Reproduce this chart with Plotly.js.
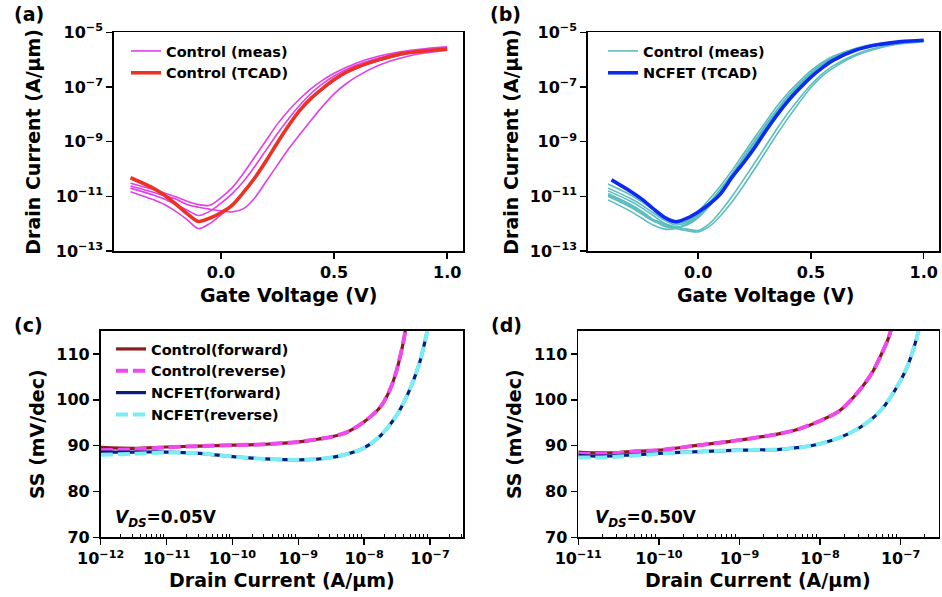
<!DOCTYPE html>
<html>
<head>
<meta charset="utf-8">
<script src="https://cdn.plot.ly/plotly-3.0.1.min.js"></script>
<style>html,body{margin:0;padding:0;background:#fff;} #chart{width:942px;height:597px;}</style>
</head>
<body>
<div id="chart"></div>
<script>
// ---------------- DATA (log10 of drain current, A/um) ----------------
// Panel (a): Control, measured vs TCAD
const vgA = [-0.4,-0.3,-0.25,-0.2,-0.15,-0.1,-0.05,0,0.05,0.1,0.15,0.2,0.25,0.3,0.35,0.4,0.45,0.5,0.55,0.6,0.7,0.8,0.9,1.0];
const ctrlTcadLog = [-10.32,-10.70,-10.96,-11.28,-11.63,-11.92,-11.80,-11.60,-11.32,-10.85,-10.32,-9.70,-9.03,-8.40,-7.84,-7.40,-7.05,-6.73,-6.47,-6.28,-6.0,-5.78,-5.68,-5.61];
const ctrlMeasA = [-10.52,-10.75,-10.88,-11.02,-11.18,-11.30,-11.33,-11.05,-10.68,-10.15,-9.55,-8.95,-8.35,-7.85,-7.42,-7.05,-6.75,-6.5,-6.3,-6.12,-5.87,-5.7,-5.6,-5.53];
const ctrlMeasB = [-10.70,-10.95,-11.1,-11.3,-11.5,-11.7,-11.55,-11.25,-10.9,-10.45,-9.9,-9.3,-8.7,-8.15,-7.65,-7.22,-6.88,-6.6,-6.38,-6.2,-5.93,-5.75,-5.64,-5.57];
const ctrlMeasC = [-10.83,-11.12,-11.3,-11.55,-11.85,-12.18,-12.0,-11.68,-11.3,-10.82,-10.27,-9.65,-9.02,-8.42,-7.88,-7.44,-7.08,-6.78,-6.52,-6.32,-6.03,-5.82,-5.7,-5.62];
const ctrlMeasD = [-10.62,-10.85,-10.98,-11.1,-11.3,-11.4,-11.47,-11.53,-11.57,-11.45,-11.05,-10.45,-9.85,-9.25,-8.72,-8.2,-7.7,-7.25,-6.9,-6.62,-6.2,-5.93,-5.76,-5.66];

// Panel (b): Control measured vs NCFET TCAD
const vgB = [-0.4,-0.3,-0.25,-0.2,-0.15,-0.1,-0.05,0,0.05,0.1,0.15,0.2,0.25,0.3,0.35,0.4,0.45,0.5,0.55,0.6,0.7,0.8,0.9,1.0];
const measB1 = [-10.55,-10.95,-11.2,-11.48,-11.78,-11.98,-11.9,-11.55,-11.1,-10.6,-10.05,-9.45,-8.85,-8.27,-7.7,-7.2,-6.78,-6.4,-6.1,-5.87,-5.58,-5.42,-5.34,-5.3];
const measB2 = [-10.7,-11.08,-11.32,-11.6,-11.88,-12.05,-11.95,-11.65,-11.22,-10.72,-10.17,-9.57,-8.97,-8.38,-7.82,-7.3,-6.86,-6.47,-6.15,-5.9,-5.6,-5.43,-5.35,-5.3];
const measB3 = [-10.8,-11.18,-11.42,-11.7,-11.98,-12.12,-12.05,-11.78,-11.35,-10.85,-10.3,-9.7,-9.1,-8.5,-7.93,-7.42,-6.96,-6.56,-6.22,-5.95,-5.63,-5.45,-5.36,-5.31];
const measB4 = [-10.9,-11.3,-11.55,-11.85,-12.1,-12.15,-12.02,-11.72,-11.3,-10.8,-10.25,-9.65,-9.05,-8.45,-7.9,-7.38,-6.93,-6.53,-6.2,-5.93,-5.62,-5.44,-5.35,-5.31];
const measB5 = [-11.13,-11.55,-11.8,-12.05,-12.2,-12.18,-12.0,-11.7,-11.25,-10.75,-10.2,-9.6,-9.0,-8.4,-7.85,-7.35,-6.9,-6.5,-6.18,-5.92,-5.61,-5.44,-5.35,-5.3];
const measB6 = [-10.95,-11.35,-11.6,-11.85,-12.0,-12.12,-12.2,-12.25,-12.0,-11.55,-11.0,-10.4,-9.78,-9.15,-8.52,-7.93,-7.4,-6.92,-6.52,-6.22,-5.8,-5.55,-5.4,-5.33];
const measB7 = [-11.0,-11.4,-11.65,-11.9,-12.05,-12.18,-12.26,-12.3,-12.1,-11.7,-11.2,-10.62,-10.0,-9.36,-8.72,-8.12,-7.55,-7.02,-6.6,-6.3,-5.85,-5.58,-5.42,-5.34];
const vgNc = [-0.385,-0.3,-0.25,-0.2,-0.15,-0.1,-0.05,0,0.05,0.1,0.15,0.2,0.25,0.3,0.35,0.4,0.45,0.5,0.55,0.6,0.7,0.8,0.9,1.0];
const ncTcadLog = [-10.4,-10.82,-11.1,-11.45,-11.77,-11.93,-11.8,-11.57,-11.28,-10.9,-10.3,-9.78,-9.22,-8.6,-8.02,-7.5,-7.05,-6.64,-6.3,-6.02,-5.65,-5.45,-5.34,-5.29];

// Panel (c): SS vs Id, VDS = 0.05 V
const ctrlIdC = [-12,-11.5,-11,-10.5,-10,-9.5,-9,-8.75,-8.5,-8.25,-8,-7.75,-7.6,-7.5,-7.4,-7.35];
const ctrlFwdC = [89.6,89.4,89.7,89.9,90.1,90.3,90.8,91.3,91.9,93.0,95.2,98.5,102.5,106.8,113,117.5];
const ctrlRevC = [89.0,89.2,89.6,89.9,90.1,90.3,90.8,91.3,91.9,93.0,95.2,98.5,102.5,106.8,113,117.5];
const ncIdC = [-12,-11.5,-11,-10.5,-10,-9.5,-9,-8.75,-8.5,-8.25,-8,-7.75,-7.5,-7.3,-7.15,-7.05,-7.0];
const ncFwdC = [88.6,88.6,88.6,88.3,87.6,87.1,86.9,87.0,87.4,88.2,89.5,92.2,96.8,102.5,108.5,114.5,118];
const ncRevC = [88.0,88.2,88.5,88.3,87.6,87.1,86.9,87.0,87.4,88.2,89.5,92.2,96.8,102.5,108.5,114.5,118];

// Panel (d): SS vs Id, VDS = 0.50 V
const ctrlIdD = [-11,-10.75,-10.5,-10.25,-10,-9.5,-9,-8.5,-8.25,-8,-7.75,-7.5,-7.35,-7.25,-7.15,-7.1];
const ctrlFwdD = [88.6,88.4,88.5,88.8,89.0,90.1,91.2,92.6,93.7,95.4,97.7,102.3,106.0,109.5,113.5,116.5];
const ctrlRevD = [88.2,88.2,88.4,88.8,89.0,90.1,91.2,92.6,93.7,95.4,97.7,102.3,106.0,109.5,113.5,116.5];
const ncIdD = [-11,-10.75,-10.5,-10,-9.5,-9,-8.5,-8.25,-8,-7.75,-7.5,-7.25,-7.0,-6.9,-6.8,-6.75];
const ncFwdD = [87.9,87.7,87.8,88.3,88.7,89.0,89.2,89.6,90.4,91.8,94.0,97.6,104.2,108.0,113.5,117];
const ncRevD = [87.4,87.4,87.6,88.2,88.7,89.0,89.2,89.6,90.4,91.8,94.0,97.6,104.2,108.0,113.5,117];

// tick labels
const ivTickVals = [1e-13,1e-11,1e-9,1e-7,1e-5];
const ivTickText = ['10<sup>−13</sup>','10<sup>−11</sup>','10<sup>−9</sup>','10<sup>−7</sup>','10<sup>−5</sup>'];
const vgTickVals = [0,0.5,1.0];
const vgTickText = ['0.0','0.5','1.0'];
const ssTickVals = [70,80,90,100,110];
const ssTickText = ['70','80','90','100','110'];
const idTickValsC = [1e-12,1e-11,1e-10,1e-9,1e-8,1e-7];
const idTickTextC = ['10<sup>−12</sup>','10<sup>−11</sup>','10<sup>−10</sup>','10<sup>−9</sup>','10<sup>−8</sup>','10<sup>−7</sup>'];
const idTickValsD = [1e-11,1e-10,1e-9,1e-8,1e-7];
const idTickTextD = ['10<sup>−11</sup>','10<sup>−10</sup>','10<sup>−9</sup>','10<sup>−8</sup>','10<sup>−7</sup>'];

// ---------------- STYLE ----------------
const W = 942, H = 597;
const px = x => x / W;
const py = y => 1 - y / H;
const FAM = 'DejaVu Sans, Verdana, sans-serif';
const toA = arr => arr.map(v => Math.pow(10, v));

const cMeasA = '#e23fe6', cTcadA = '#ea3323';
const cMeasB = '#5bbdbd', cTcadB = '#0b2bf2';
const cCtrlF = '#8b1c1c', cCtrlR = '#ee4aee', cNcF = '#0d1b7e', cNcR = '#7aeef2';

const traces = [];
function line(x, y, xa, ya, color, width, name, show, legend, dash) {
  traces.push({
    x: x, y: y, xaxis: xa, yaxis: ya, type: 'scatter', mode: 'lines',
    line: {color: color, width: width, shape: 'spline', smoothing: 0.8, dash: dash || 'solid'},
    name: name, showlegend: show, legend: legend, hoverinfo: 'skip'
  });
}
// (a)
[ctrlMeasA, ctrlMeasB, ctrlMeasC, ctrlMeasD].forEach((c, i) =>
  line(vgA, toA(c), 'x', 'y', cMeasA, 1.6, 'Control (meas)', i === 0, 'legend'));
line(vgA, toA(ctrlTcadLog), 'x', 'y', cTcadA, 3.6, 'Control (TCAD)', true, 'legend');
// (b)
[measB1, measB2, measB3, measB4, measB5, measB6, measB7].forEach((c, i) =>
  line(vgB, toA(c), 'x2', 'y2', cMeasB, 1.6, 'Control (meas)', i === 0, 'legend2'));
line(vgNc, toA(ncTcadLog), 'x2', 'y2', cTcadB, 3.6, 'NCFET (TCAD)', true, 'legend2');
// (c)
line(toA(ctrlIdC), ctrlFwdC, 'x3', 'y3', cCtrlF, 3.2, 'Control(forward)', true, 'legend3');
line(toA(ctrlIdC), ctrlRevC, 'x3', 'y3', cCtrlR, 4, 'Control(reverse)', true, 'legend3', '12px,5px');
line(toA(ncIdC), ncFwdC, 'x3', 'y3', cNcF, 3.2, 'NCFET(forward)', true, 'legend3');
line(toA(ncIdC), ncRevC, 'x3', 'y3', cNcR, 4, 'NCFET(reverse)', true, 'legend3', '12px,5px');
// (d)
line(toA(ctrlIdD), ctrlFwdD, 'x4', 'y4', cCtrlF, 3.2, 'Control(forward)', false, 'legend3');
line(toA(ctrlIdD), ctrlRevD, 'x4', 'y4', cCtrlR, 4, 'Control(reverse)', false, 'legend3', '12px,5px');
line(toA(ncIdD), ncFwdD, 'x4', 'y4', cNcF, 3.2, 'NCFET(forward)', false, 'legend3');
line(toA(ncIdD), ncRevD, 'x4', 'y4', cNcR, 4, 'NCFET(reverse)', false, 'legend3', '12px,5px');

function minorVals(lo, hi) {
  const v = [];
  for (let d = lo; d < hi; d++) for (let k = 2; k <= 9; k++) v.push(k * Math.pow(10, d));
  return v;
}

const tickFont = {family: FAM, size: 16, color: '#000', weight: 'bold'};
const baseAxis = {
  showline: true, mirror: true, linecolor: '#000', linewidth: 1.8,
  ticks: 'outside', ticklen: 6, tickwidth: 1.5, tickcolor: '#000',
  showgrid: false, zeroline: false, tickfont: tickFont, fixedrange: true
};
const ax = (o) => Object.assign({}, baseAxis, o);

const legFont = {family: FAM, size: 14.5, color: '#000', weight: 'bold'};
const legBase = {bgcolor: 'rgba(0,0,0,0)', borderwidth: 0, font: legFont, xanchor: 'left', yanchor: 'top', itemwidth: 30, tracegroupgap: 0};

const titleFont = {family: FAM, size: 19, color: '#000', weight: 'bold'};
function ann(text, x, y, opts) {
  return Object.assign({text: text, xref: 'paper', yref: 'paper', x: px(x), y: py(y), showarrow: false,
    font: titleFont, xanchor: 'center', yanchor: 'middle'}, opts || {});
}
const vdsFont = {family: FAM, size: 17, color: '#000', weight: 'bold'};

const layout = {
  width: W, height: H, margin: {l: 0, r: 0, t: 0, b: 0},
  paper_bgcolor: '#fff', plot_bgcolor: '#fff', showlegend: true,
  xaxis: ax({domain: [px(114), px(463)], range: [-0.473, 1.07], tickvals: vgTickVals, ticktext: vgTickText, anchor: 'y'}),
  yaxis: ax({domain: [py(251), py(32.3)], type: 'log', range: [-13, -5], tickvals: ivTickVals, ticktext: ivTickText, anchor: 'x'}),
  xaxis2: ax({domain: [px(588), px(939)], range: [-0.489, 1.068], tickvals: vgTickVals, ticktext: vgTickText, anchor: 'y2'}),
  yaxis2: ax({domain: [py(251), py(32.3)], type: 'log', range: [-13, -5], tickvals: ivTickVals, ticktext: ivTickText, anchor: 'x2'}),
  xaxis3: ax({domain: [px(100.7), px(463)], type: 'log', range: [-12, -6.5], tickvals: idTickValsC, ticktext: idTickTextC, anchor: 'y3',
    minor: {tickvals: minorVals(-12, -6), ticks: 'inside', ticklen: 3, tickwidth: 1, tickcolor: '#000'}}),
  yaxis3: ax({domain: [py(537.3), py(331)], range: [70, 115], tickvals: ssTickVals, ticktext: ssTickText, anchor: 'x3'}),
  xaxis4: ax({domain: [px(578.3), px(938.5)], type: 'log', range: [-11, -6.53], tickvals: idTickValsD, ticktext: idTickTextD, anchor: 'y4',
    minor: {tickvals: minorVals(-11, -6), ticks: 'inside', ticklen: 3, tickwidth: 1, tickcolor: '#000'}}),
  yaxis4: ax({domain: [py(537.3), py(331)], range: [70, 115], tickvals: ssTickVals, ticktext: ssTickText, anchor: 'x4'}),
  legend: Object.assign({}, legBase, {x: px(126), y: py(35)}),
  legend2: Object.assign({}, legBase, {x: px(603), y: py(35)}),
  legend3: Object.assign({}, legBase, {x: px(111), y: py(333)}),
  annotations: [
    ann('(a)', 12, 14, {xanchor: 'left'}),
    ann('(b)', 488, 14, {xanchor: 'left'}),
    ann('(c)', 12, 325, {xanchor: 'left'}),
    ann('(d)', 489, 325, {xanchor: 'left'}),
    ann('Drain Current (A/μm)', 33, 141.7, {textangle: -90}),
    ann('Drain Current (A/μm)', 511, 141.7, {textangle: -90}),
    ann('Gate Voltage (V)', 288.5, 295),
    ann('Gate Voltage (V)', 765, 295),
    ann('SS (mV/dec)', 37, 434, {textangle: -90}),
    ann('SS (mV/dec)', 514, 434, {textangle: -90}),
    ann('Drain Current (A/μm)', 281.8, 580),
    ann('Drain Current (A/μm)', 758.4, 580),
    ann('<i>V</i><sub><i>DS</i></sub>=0.05V', 113, 518, {xanchor: 'left', font: vdsFont}),
    ann('<i>V</i><sub><i>DS</i></sub>=0.50V', 593, 518, {xanchor: 'left', font: vdsFont})
  ]
};

Plotly.newPlot('chart', traces, layout, {displayModeBar: false, staticPlot: true});
</script>
</body>
</html>
